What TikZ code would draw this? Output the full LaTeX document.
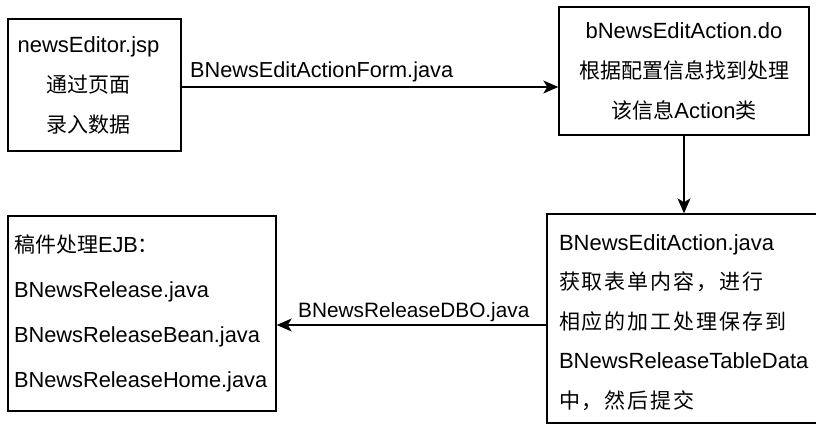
\documentclass[tikz,border=0pt]{standalone}
\usepackage{fontspec}
\setmainfont{Liberation Sans}
\newfontfamily\cjk{Noto Sans CJK SC}
\newfontfamily\cjkw{Noto Sans CJK SC}[LetterSpace=9]
\newcommand\zhsz{21}
\newcommand\zh[1]{{\fontsize{\zhsz}{0}\selectfont\cjk #1}}
\newcommand\zhw[1]{{\fontsize{\zhsz}{0}\selectfont\cjkw #1}}
\usetikzlibrary{arrows.meta}
\begin{document}
\begin{tikzpicture}[x=1pt,y=-1pt,
  box/.style={draw, line width=1.4pt, inner sep=0pt},
  conn/.style={line width=1.3pt, -{Stealth[length=15pt,width=13pt,inset=4pt]}},
  lbl/.style={inner sep=0pt}]
\useasboundingbox (0,0) rectangle (816,425);
\clip (0,0) rectangle (816,425);
\node[box, minimum width=173pt, minimum height=132pt] (b1) at (94.5,85) {};
\node[inner sep=0pt, align=center, xshift=-6pt,
  font=\fontsize{22}{40}\selectfont] (b1t) at (b1.center)
  {newsEditor.jsp\\\zh{通过页面}\\\zh{录入数据}};
\node[box, minimum width=250pt, minimum height=128pt, align=center,
  font=\fontsize{22}{40}\selectfont] (b2) at (684,71)
  {bNewsEditAction.do\\\zh{根据配置信息找到处理}\\\zh{该信息}Action\zh{类}};
\node[box, minimum height=195pt, inner xsep=6pt, text width=256pt, align=left,
  font=\fontsize{21.8}{45}\selectfont] (b3) at (142,313.5)
  {\zh{稿件处理}EJB\zh{：}\\BNewsRelease.java\\BNewsReleaseBean.java\\BNewsReleaseHome.java};
\node[box, minimum height=209pt, minimum width=283pt] (b4) at (688.5,318.5) {};
\node[inner sep=0pt, text width=259pt, align=left, yshift=-4pt,
  font=\fontsize{22}{39.5}\selectfont] (b4t) at (b4.center)
  {BNewsEditAction.java\\\zhw{获取表单内容，进行}\\\zhw{相应的加工处理保存到}\\BNewsReleaseTableData\\\zhw{中，然后提交}};
\coordinate (a1) at (0,87);
\coordinate (a2) at (0,325);
\draw[conn] (b1.east |- a1) -- (b2.west |- a1);
\draw[conn] (b2.south) -- (b2.south |- b4.north);
\draw[conn] (b4.west |- a2) -- (b3.east |- a2);
\node[lbl, anchor=base west, font=\fontsize{21.7}{25}\selectfont] (l1) at (190,78) {BNewsEditActionForm.java};
\node[lbl, anchor=base west, font=\fontsize{20.8}{25}\selectfont] (l2) at (298,317) {BNewsReleaseDBO.java};
\end{tikzpicture}
\end{document}
